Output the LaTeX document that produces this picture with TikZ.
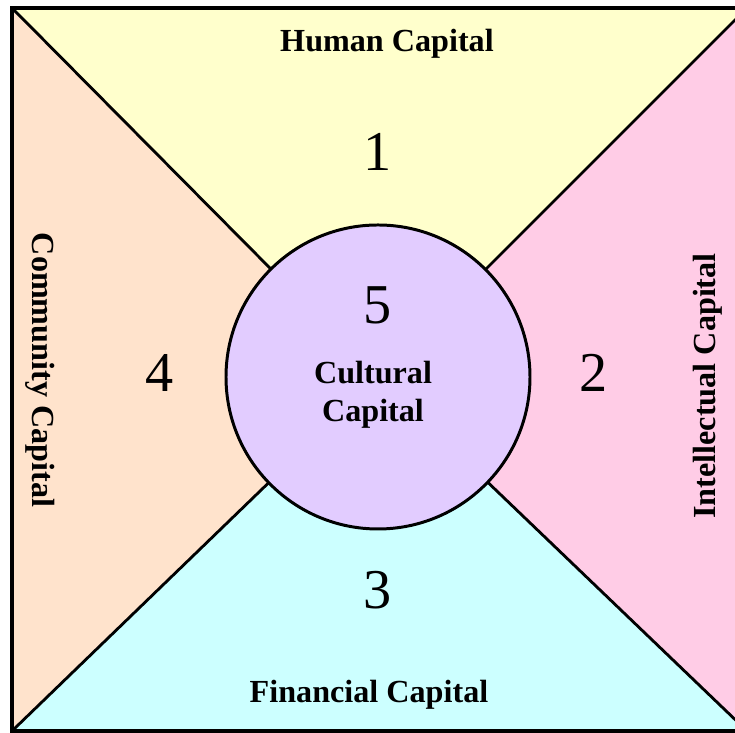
\documentclass[tikz,border=0pt]{standalone}
\usepackage{fontspec}
\setmainfont{Liberation Serif}
\usepackage{xcolor}
\usepackage{tikz}
\definecolor{capyellow}{RGB}{255, 255, 204}
\definecolor{cappink}{RGB}{255, 204, 230}
\definecolor{cappeach}{RGB}{255, 227, 204}
\definecolor{capcyan}{RGB}{204, 255, 255}
\definecolor{caplilac}{RGB}{226, 204, 255}

\begin{document}
\begin{tikzpicture}[x=0.2cm, y=0.2cm,
  capname/.style={font=\fontsize{18.3}{21.5}\selectfont\bfseries, align=center},
  capnum/.style={font=\fontsize{32}{36}\selectfont}]
\clip (0,0) rectangle (73.5,73.3);
\fill[white] (0,0) rectangle (73.5,73.3);

% Corners and centre
\coordinate (tl) at (1.2,72.5);
\coordinate (tr) at (74.7,72.5);
\coordinate (br) at (74.7,0.2);
\coordinate (bl) at (1.2,0.2);
\coordinate (mid) at (37.8,35.6);

% Four triangles
\fill[capyellow] (tl) -- (tr) -- (mid) -- cycle;
\fill[cappink] (tr) -- (br) -- (mid) -- cycle;
\fill[capcyan] (br) -- (bl) -- (mid) -- cycle;
\fill[cappeach] (bl) -- (tl) -- (mid) -- cycle;

\draw[line width=1.6pt] (tl) -- (mid) -- (br);
\draw[line width=1.6pt] (tr) -- (mid) -- (bl);
\draw[line width=2.2pt] (tl) -- (tr) -- (br) -- (bl) -- cycle;

% Centre circle
\node[circle, draw, line width=1.7pt, fill=caplilac, minimum size=6.08cm, inner sep=0pt] (core) at (mid) {};

% Labels
\node[capname] (human) at (38.7,68.9) {Human Capital};
\node[capname] (financial) at (36.9,3.8) {Financial Capital};
\node[capname, rotate=-90] (community) at (4.0,36.3) {Community Capital};
\node[capname, rotate=90] (intellectual) at (70.8,34.7) {Intellectual Capital};
\node[capname] (cultural) at (37.3,33.8) {Cultural\\Capital};

\node[capnum] (one) at (37.8,58.1) {1};
\node[capnum] (two) at (59.4,36.0) {2};
\node[capnum] (three) at (37.8,14.3) {3};
\node[capnum] (four) at (16.0,36.0) {4};
\node[capnum] (five) at (37.8,42.8) {5};
\end{tikzpicture}
\end{document}
